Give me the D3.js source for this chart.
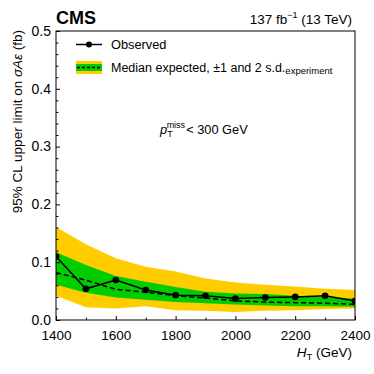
<!DOCTYPE html>
<html><head><meta charset="utf-8">
<script src="https://cdn.jsdelivr.net/npm/d3@7"></script>
<style>body{margin:0;background:#fff}svg{font-family:"Liberation Sans",Arial,sans-serif}</style>
</head><body><svg id="c" width="374" height="374"></svg>
<script>
const ht = [1400,1500,1600,1700,1800,1900,2000,2100,2200,2300,2400];
const observed = [0.110,0.054,0.069,0.052,0.043,0.042,0.037,0.039,0.040,0.042,0.033];
const expected = [0.082,0.069,0.053,0.048,0.042,0.038,0.033,0.031,0.030,0.029,0.027];
const sd1Up = [0.117,0.095,0.076,0.066,0.057,0.049,0.046,0.045,0.042,0.040,0.037];
const sd1Down = [0.061,0.047,0.039,0.035,0.031,0.029,0.027,0.025,0.024,0.024,0.023];
const sd2Up = [0.161,0.131,0.107,0.092,0.084,0.072,0.065,0.061,0.058,0.054,0.052];
const sd2Down = [0.042,0.022,0.020,0.024,0.017,0.016,0.014,0.016,0.017,0.019,0.020];
const xTicks = [1400,1600,1800,2000,2200,2400];
const yTicks = [0.0,0.1,0.2,0.3,0.4,0.5];

const svg = d3.select("#c");
const L=56, R=355, T=31, B=320;
const x = d3.scaleLinear().domain([1400,2400]).range([L,R]);
const y = d3.scaleLinear().domain([0,0.5]).range([B,T]);
const yellow="#FFCC00", green="#00CC00";

svg.append("clipPath").attr("id","pc").append("rect").attr("x",L).attr("y",T).attr("width",R-L).attr("height",B-T);
const g = svg.append("g").attr("clip-path","url(#pc)");

const idx = d3.range(ht.length);
const area = (up,dn)=>d3.area().x(i=>x(ht[i])).y0(i=>y(dn[i])).y1(i=>y(up[i]));
g.append("path").attr("d",area(sd2Up,sd2Down)(idx)).attr("fill",yellow);
g.append("path").attr("d",area(sd1Up,sd1Down)(idx)).attr("fill",green);
g.append("path").attr("d",d3.line().x(i=>x(ht[i])).y(i=>y(expected[i]))(idx))
  .attr("fill","none").attr("stroke","#000").attr("stroke-width",1.5).attr("stroke-dasharray","5,3");
g.append("path").attr("d",d3.line().x(i=>x(ht[i])).y(i=>y(observed[i]))(idx))
  .attr("fill","none").attr("stroke","#000").attr("stroke-width",1.5);
g.selectAll("circle.o").data(idx).enter().append("circle")
  .attr("cx",i=>x(ht[i])).attr("cy",i=>y(observed[i])).attr("r",3.3).attr("fill","#000");

// frame
svg.append("rect").attr("x",L).attr("y",T).attr("width",R-L).attr("height",B-T)
  .attr("fill","none").attr("stroke","#000").attr("stroke-width",1);

// axes
const xAx = svg.append("g").attr("transform",`translate(0,${B})`)
  .call(d3.axisBottom(x).tickValues(xTicks).tickSize(-4).tickPadding(10).tickFormat(d3.format("d")));
const xMinor = svg.append("g").attr("transform",`translate(0,${B})`)
  .call(d3.axisBottom(x).tickValues(d3.range(1500,2400,200)).tickSize(-2.5).tickFormat(""));
const yAx = svg.append("g").attr("transform",`translate(${L},0)`)
  .call(d3.axisLeft(y).tickValues(yTicks).tickSize(-4).tickPadding(5).tickFormat(d3.format(".1f")));
const yMinor = svg.append("g").attr("transform",`translate(${L},0)`)
  .call(d3.axisLeft(y).tickValues(d3.range(0.02,0.5,0.02).filter(v=>Math.abs(v*10-Math.round(v*10))>1e-6)).tickSize(-2.5).tickFormat(""));
[xAx,xMinor,yAx,yMinor].forEach(a=>{a.select(".domain").remove();a.selectAll("line").attr("stroke","#000");});
xAx.selectAll("text").attr("font-size",13.5).attr("fill","#000").attr("font-family","Liberation Sans, Arial");
yAx.selectAll("text").attr("font-size",14).attr("fill","#000").attr("font-family","Liberation Sans, Arial").attr("dy","0.3em");

// titles
svg.append("text").attr("x",56).attr("y",23.5).attr("font-size",18).attr("font-weight","bold").text("CMS");
const lum = svg.append("text").attr("x",352).attr("y",23.5).attr("font-size",13.5).attr("text-anchor","end");
lum.append("tspan").text("137 fb");
lum.append("tspan").attr("font-size",9).attr("dy",-5.5).text("−1");
lum.append("tspan").attr("dy",5.5).text(" (13 TeV)");

const xl = svg.append("text").attr("x",352).attr("y",357).attr("font-size",13.5).attr("text-anchor","end");
xl.append("tspan").attr("font-style","italic").text("H");
xl.append("tspan").attr("font-size",9.5).attr("dy",3).text("T");
xl.append("tspan").attr("dy",-3).text(" (GeV)");

const yl = svg.append("text").attr("transform",`translate(22,${T-1}) rotate(-90)`).attr("font-size",13.5).attr("text-anchor","end");
yl.append("tspan").text("95% CL upper limit on ");
yl.append("tspan").attr("font-style","italic").text("σAε");
yl.append("tspan").text(" (fb)");

// legend
svg.append("line").attr("x1",76).attr("x2",102).attr("y1",44.5).attr("y2",44.5).attr("stroke","#000").attr("stroke-width",1.5);
svg.append("circle").attr("cx",89).attr("cy",44.5).attr("r",3);
svg.append("text").attr("x",111).attr("y",49).attr("font-size",12.8).text("Observed");
svg.append("rect").attr("x",76).attr("y",61).attr("width",26).attr("height",13).attr("fill",yellow);
svg.append("rect").attr("x",76).attr("y",64).attr("width",26).attr("height",7).attr("fill",green);
svg.append("line").attr("x1",77).attr("x2",102).attr("y1",67.5).attr("y2",67.5).attr("stroke","#000").attr("stroke-width",1.3).attr("stroke-dasharray","3,2");
const lt = svg.append("text").attr("x",111).attr("y",71.5).attr("font-size",12.5);
lt.append("tspan").text("Median expected, ±1 and 2 s.d.");
lt.append("tspan").attr("font-size",9.5).attr("dy",2).text("experiment");

// annotation
const an = svg.append("text").attr("x",160).attr("y",134).attr("font-size",12.8);
an.append("tspan").attr("font-style","italic").text("p");
an.append("tspan").attr("font-size",9).attr("dy",3).text("T");
an.append("tspan").attr("font-size",9).attr("dy",-9).attr("dx",-6).text("miss");
an.append("tspan").attr("dy",6).attr("dx",1).text("< 300 GeV");
</script></body></html>
